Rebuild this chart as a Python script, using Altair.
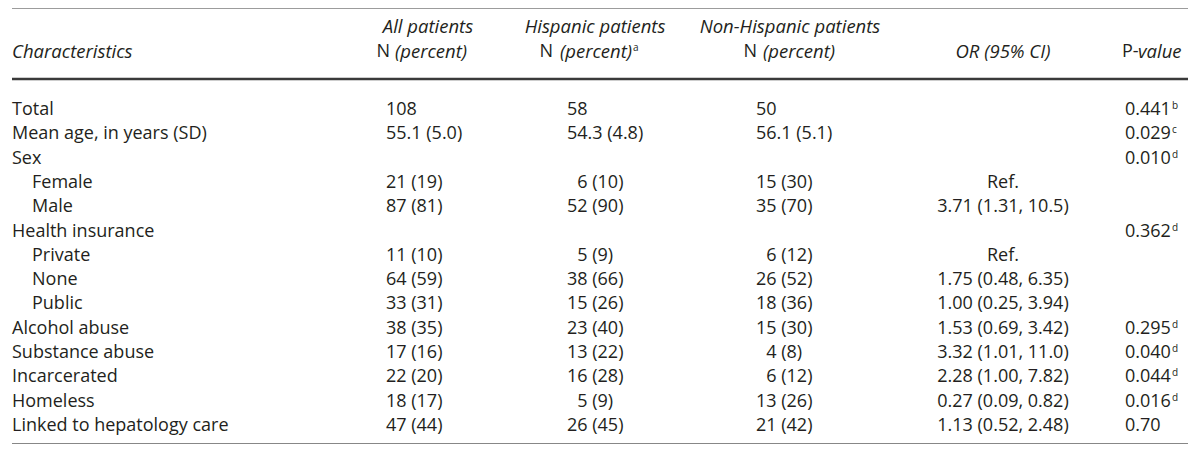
import altair as alt
import pandas as pd

# ---------------- data ----------------
characteristics = ["Total", "Mean age, in years (SD)", "Sex", "Female", "Male",
                   "Health insurance", "Private", "None", "Public", "Alcohol abuse",
                   "Substance abuse", "Incarcerated", "Homeless", "Linked to hepatology care"]
sub_item = [0, 0, 0, 1, 1, 0, 1, 1, 1, 0, 0, 0, 0, 0]
all_patients = ["108", "55.1 (5.0)", "", "21 (19)", "87 (81)", "", "11 (10)", "64 (59)",
                "33 (31)", "38 (35)", "17 (16)", "22 (20)", "18 (17)", "47 (44)"]
hispanic = ["58", "54.3 (4.8)", "", "6 (10)", "52 (90)", "", "5 (9)", "38 (66)",
            "15 (26)", "23 (40)", "13 (22)", "16 (28)", "5 (9)", "26 (45)"]
non_hispanic = ["50", "56.1 (5.1)", "", "15 (30)", "35 (70)", "", "6 (12)", "26 (52)",
                "18 (36)", "15 (30)", "4 (8)", "6 (12)", "13 (26)", "21 (42)"]
odds_ratio = ["", "", "", "Ref.", "3.71 (1.31, 10.5)", "", "Ref.", "1.75 (0.48, 6.35)",
              "1.00 (0.25, 3.94)", "1.53 (0.69, 3.42)", "3.32 (1.01, 11.0)",
              "2.28 (1.00, 7.82)", "0.27 (0.09, 0.82)", "1.13 (0.52, 2.48)"]
p_value = ["0.441", "0.029", "0.010", "", "", "0.362", "", "", "", "0.295",
           "0.040", "0.044", "0.016", "0.70"]
p_note = ["b", "c", "d", "", "", "d", "", "", "", "d", "d", "d", "d", ""]

group_titles = ["All patients", "Hispanic patients", "Non-Hispanic patients"]
count_label = ["N", "N", "N"]
percent_label = ["(percent)", "(percent)", "(percent)"]
percent_note = ["", "a", ""]
label_header = "Characteristics"
or_header = "OR (95% CI)"
p_header_roman = "P-"
p_header_italic = "value"

# ---------------- layout (page pixels) ----------------
W, H = 1184, 436
FONT = "Open Sans"
FS = 18
FS_IT = 18.5
FS_NOTE = 10
INK = "#231f20"
ROW0_Y = 110
ROW_H = 24.3
HEAD1_Y = 26.5
HEAD2_Y = 52
TOP_RULE_Y = 8
MID_RULE_Y = 79
RULE_X0, RULE_X1 = 12, 1188
LABEL_X = 12
INDENT = 20
DIGIT_W = 10.3
COL_LEFT = {"all": 386, "his": 567, "non": 756, "p": 1125}
P_NOTE_X = 1125 + 47
OR_CENTER = 1003
GROUP_CENTER = [428, 595, 790]
N_RIGHT = [390, 553, 757]
PCT_LEFT = [395, 560, 763]
PCT_W = 73
P_HEAD_X = 1122


def ry(px):
    return (px - ROW0_Y) / ROW_H


n_rows = len(characteristics)
bottom_rule_y = ROW0_Y + (n_rows - 1) * ROW_H + 18

xs = alt.Scale(domain=[8, 8 + W], range=[0, W])
ys = alt.Scale(domain=[ry(8), ry(8 + H)], range=[0, H])


def shift(s):
    # single-digit counts sit one digit to the right
    if s and "(" in s and len(s.split(" ")[0]) == 1:
        return DIGIT_W
    return 0.0


# body table
body = []
for i in range(n_rows):
    body.append({"row": i, "x": LABEL_X + INDENT * sub_item[i], "t": characteristics[i], "kind": "left"})
    for key, col in (("all", all_patients), ("his", hispanic), ("non", non_hispanic)):
        body.append({"row": i, "x": COL_LEFT[key] + shift(col[i]), "t": col[i], "kind": "left"})
    body.append({"row": i, "x": OR_CENTER, "t": odds_ratio[i], "kind": "center"})
    body.append({"row": i, "x": COL_LEFT["p"], "t": p_value[i], "kind": "left"})
body = pd.DataFrame([b for b in body if b["t"]])

notes = pd.DataFrame(
    [{"row": i, "x": P_NOTE_X, "t": p_note[i]} for i in range(n_rows) if p_note[i]]
    + [{"row": ry(HEAD2_Y), "x": PCT_LEFT[k] + PCT_W, "t": percent_note[k]} for k in range(3) if percent_note[k]]
)

head_italic_center = pd.DataFrame(
    [{"row": ry(HEAD1_Y), "x": GROUP_CENTER[k], "t": group_titles[k]} for k in range(3)]
    + [{"row": ry(HEAD2_Y), "x": OR_CENTER, "t": or_header}]
)
head_italic_left = pd.DataFrame(
    [{"row": ry(HEAD2_Y), "x": LABEL_X, "t": label_header}]
    + [{"row": ry(HEAD2_Y), "x": PCT_LEFT[k], "t": percent_label[k]} for k in range(3)]
)
head_roman_right = pd.DataFrame(
    [{"row": ry(HEAD2_Y), "x": N_RIGHT[k], "t": count_label[k]} for k in range(3)]
)
p_head = pd.DataFrame([{"row": ry(HEAD2_Y), "x": P_HEAD_X, "t": p_header_roman}])
p_head_it = pd.DataFrame([{"row": ry(HEAD2_Y), "x": P_HEAD_X + 16, "t": p_header_italic}])

rules = pd.DataFrame([
    {"row": ry(TOP_RULE_Y), "x": RULE_X0, "x2": RULE_X1, "w": 1.0},
    {"row": ry(MID_RULE_Y), "x": RULE_X0, "x2": RULE_X1, "w": 2.6},
    {"row": ry(bottom_rule_y), "x": RULE_X0, "x2": RULE_X1, "w": 1.0},
])


def txt(df, align, style="normal", size=FS, dy=0, baseline="middle"):
    return alt.Chart(df).mark_text(
        align=align, baseline=baseline, font=FONT, fontSize=size, fontStyle=style,
        color=INK, fontWeight=400, dy=dy,
    ).encode(
        x=alt.X("x:Q", scale=xs, axis=None),
        y=alt.Y("row:Q", scale=ys, axis=None),
        text="t:N",
    )


rule_layer = alt.Chart(rules).mark_rule(color="#3a3a3a").encode(
    x=alt.X("x:Q", scale=xs, axis=None),
    x2="x2:Q",
    y=alt.Y("row:Q", scale=ys, axis=None),
    strokeWidth=alt.StrokeWidth("w:Q", scale=None, legend=None),
)

chart = alt.layer(
    rule_layer,
    txt(body[body.kind == "left"], "left"),
    txt(body[body.kind == "center"], "center"),
    txt(notes, "left", size=FS_NOTE, dy=-4),
    txt(head_italic_center, "center", "italic", FS_IT),
    txt(head_italic_left, "left", "italic", FS_IT),
    txt(head_roman_right, "right"),
    txt(p_head, "left"),
    txt(p_head_it, "left", "italic", FS_IT),
).properties(
    width=W, height=H, padding=0, autosize=alt.AutoSizeParams(type="none"),
    background="white",
).configure_view(stroke=None)

chart.save("out.html", embed_options={"renderer": "svg", "actions": False})
